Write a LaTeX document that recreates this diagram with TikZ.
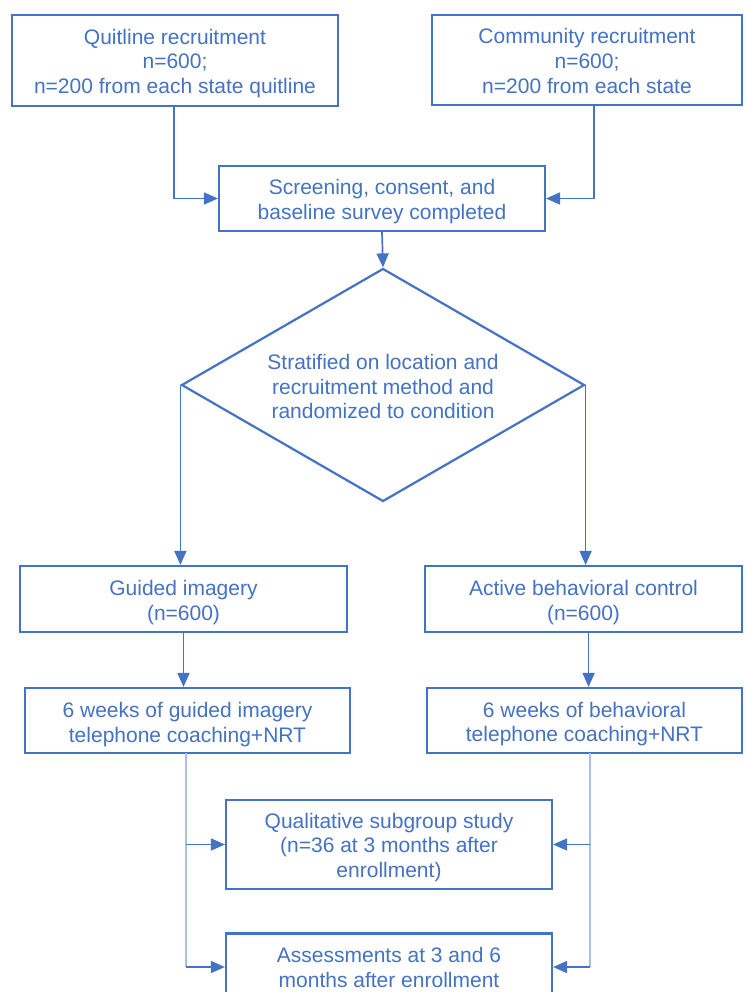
\documentclass[tikz,border=0pt]{standalone}
\usepackage{fontspec}
\setmainfont{Liberation Sans}
\usetikzlibrary{arrows.meta,shapes.geometric}
\definecolor{ob}{HTML}{4472C4}
\definecolor{obl}{HTML}{A9BFE6}
\begin{document}
\begin{tikzpicture}[x=1pt,y=-1pt,
  box/.style={draw=ob, line width=2.2pt, inner sep=0pt},
  txt/.style={text=ob, align=center, font=\fontsize{21}{24.8}\selectfont, inner sep=0pt},
  dia/.style={box, txt, shape=diamond, aspect=1.73},
  arr/.style={draw=ob, line width=1.7pt, -{Triangle[length=14pt,width=12pt]}},
  lightln/.style={draw=obl, line width=1.5pt},
  branch/.style={draw=ob, line width=1.5pt, -{Triangle[length=14pt,width=12pt]}}]
\useasboundingbox (0,0) rectangle (744,992);
\fill[white] (0,0) rectangle (744,992);

\node[box, minimum width=326pt, minimum height=91pt] (qb) at (175,60.5) {};
\node[txt] (qbt) at ([yshift=-3pt]qb.center)
  {Quitline recruitment\\n=600;\\n=200 from each state quitline};
\node[box, minimum width=310pt, minimum height=90pt] (cb) at (587,60) {};
\node[txt] (cbt) at ([yshift=-1pt]cb.center)
  {Community recruitment\\n=600;\\n=200 from each state};
\node[box, minimum width=326pt, minimum height=65pt] (scr) at (382,198.5) {};
\node[txt] (scrt) at ([yshift=-3pt]scr.center)
  {Screening, consent, and\\baseline survey completed};
\node[dia, minimum width=403pt, minimum height=233pt] (dm) at (383,385) {};
\node[txt] (dmt) at ([yshift=-1.5pt]dm.center)
  {Stratified on location and\\recruitment method and\\randomized to condition};
\node[box, minimum width=327pt, minimum height=66pt] (gi) at (183.5,599) {};
\node[txt] (git) at ([yshift=-3.5pt]gi.center)
  {Guided imagery\\(n=600)};
\node[box, minimum width=317pt, minimum height=66pt] (ac) at (583.5,599) {};
\node[txt] (act) at ([yshift=-3.5pt]ac.center)
  {Active behavioral control\\(n=600)};
\node[box, minimum width=325pt, minimum height=65pt] (gw) at (187.5,720.5) {};
\node[txt] (gwt) at ([yshift=-4pt]gw.center)
  {6 weeks of guided imagery\\telephone coaching+NRT};
\node[box, minimum width=315pt, minimum height=65pt] (bw) at (584.5,720.5) {};
\node[txt] (bwt) at ([yshift=-3.5pt]bw.center)
  {6 weeks of behavioral\\telephone coaching+NRT};
\node[box, minimum width=326pt, minimum height=89pt] (qs) at (389,844.5) {};
\node[txt] (qst) at ([yshift=-3pt]qs.center)
  {Qualitative subgroup study\\(n=36 at 3 months after\\enrollment)};
\node[box, minimum width=326pt, minimum height=67pt] (as) at (389,967) {};
\node[txt] (ast) at ([yshift=-0.5pt]as.center)
  {Assessments at 3 and 6\\months after enrollment};

\coordinate (qbo) at (174,106);
\coordinate (cbo) at (594,105);
\coordinate (lx) at (186,753);
\coordinate (rx) at (590,753);

\draw[arr] (qbo) |- (scr.west);
\draw[arr] (cbo) |- (scr.east);
\draw[arr] (scr.south) -- (dm.north);
\draw[arr] (dm.west) -- (dm.west |- gi.north);
\draw[arr] (dm.east) -- (dm.east |- ac.north);
\draw[arr] (gi.south) -- (gi.south |- gw.north);
\draw[arr] ([xshift=3pt]dm.east |- ac.south) -- ([xshift=3pt]dm.east |- bw.north);

\draw[lightln] (lx) -- (lx |- as.west);
\draw[lightln] (rx) -- (rx |- as.east);
\draw[branch] (lx |- qs.west) -- (qs.west);
\draw[branch] (lx |- as.west) -- (as.west);
\draw[branch] (rx |- qs.east) -- (qs.east);
\draw[branch] (rx |- as.east) -- (as.east);
\end{tikzpicture}
\end{document}
